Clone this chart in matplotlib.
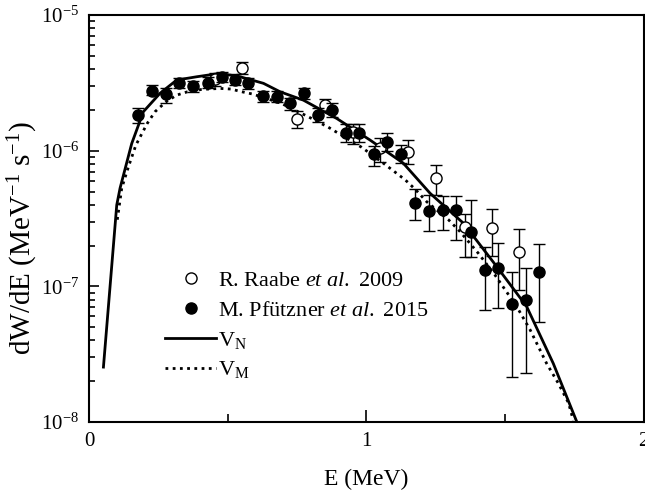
import matplotlib
matplotlib.use("Agg")
import matplotlib.pyplot as plt
import numpy as np

# Pfutzner et al. 2015 (filled): energy, value, upper and lower error-bar ends
pf_E = [0.178, 0.226, 0.277, 0.326, 0.376, 0.428, 0.479, 0.525, 0.574, 0.627,
        0.677, 0.725, 0.775, 0.826, 0.876, 0.927, 0.975, 1.026, 1.076, 1.125,
        1.176, 1.225, 1.276, 1.325, 1.376, 1.426, 1.476, 1.524, 1.576, 1.624]
pf_y = [1.83e-6, 2.75e-6, 2.61e-6, 3.14e-6, 3.0e-6, 3.17e-6, 3.51e-6, 3.33e-6, 3.14e-6, 2.52e-6,
        2.50e-6, 2.24e-6, 2.65e-6, 1.83e-6, 2.0e-6, 1.36e-6, 1.36e-6, 9.4e-7, 1.16e-6, 9.4e-7,
        4.14e-7, 3.6e-7, 3.66e-7, 3.66e-7, 2.5e-7, 1.32e-7, 1.37e-7, 7.4e-8, 8.0e-8, 1.28e-7]
pf_hi = [2.05e-6, 3.05e-6, 2.88e-6, 3.42e-6, 3.28e-6, 3.51e-6, 3.82e-6, 3.67e-6, 3.43e-6, 2.75e-6,
         2.75e-6, 2.45e-6, 2.90e-6, 2.06e-6, 2.25e-6, 1.57e-6, 1.57e-6, 1.08e-6, 1.36e-6, 1.10e-6,
         5.19e-7, 4.72e-7, 4.66e-7, 4.64e-7, 4.33e-7, 1.96e-7, 2.08e-7, 1.28e-7, 1.36e-7, 2.04e-7]
pf_lo = [1.61e-6, 2.57e-6, 2.26e-6, 2.91e-6, 2.72e-6, 2.88e-6, 3.22e-6, 3.05e-6, 2.85e-6, 2.29e-6,
         2.29e-6, 2.0e-6, 2.40e-6, 1.63e-6, 1.77e-6, 1.16e-6, 1.16e-6, 7.7e-7, 9.95e-7, 8.1e-7,
         3.08e-7, 2.56e-7, 2.60e-7, 2.2e-7, 1.64e-7, 6.7e-8, 6.9e-8, 2.15e-8, 2.3e-8, 5.5e-8]

# Raabe et al. 2009 (open)
rb_E = [0.454, 0.553, 0.750, 0.851, 0.951, 1.050, 1.151, 1.250, 1.356, 1.452, 1.551]
rb_y = [3.36e-6, 4.05e-6, 1.71e-6, 2.17e-6, 1.38e-6, 1.04e-6, 9.8e-7, 6.3e-7, 2.75e-7, 2.7e-7, 1.8e-7]
rb_hi = [3.72e-6, 4.48e-6, 1.96e-6, 2.39e-6, 1.57e-6, 1.24e-6, 1.19e-6, 7.9e-7, 3.4e-7, 3.72e-7, 2.63e-7]
rb_lo = [3.0e-6, 3.67e-6, 1.46e-6, 1.93e-6, 1.12e-6, 8.3e-7, 8.0e-7, 4.7e-7, 1.66e-7, 1.67e-7, 9.4e-8]

# model curves
vn_E = [0.052, 0.100, 0.112, 0.154, 0.196, 0.256, 0.316, 0.388, 0.472, 0.545, 0.629,
        0.689, 0.773, 0.893, 1.013, 1.133, 1.230, 1.350, 1.470, 1.578, 1.674, 1.759]
vn_y = [2.54e-8, 3.98e-7, 5.3e-7, 1.13e-6, 1.94e-6, 2.65e-6, 3.32e-6, 3.51e-6, 3.72e-6, 3.51e-6, 3.14e-6,
        2.72e-6, 2.36e-6, 1.73e-6, 1.20e-6, 8.1e-7, 4.85e-7, 2.92e-7, 1.40e-7, 7.1e-8, 2.7e-8, 1.0e-8]
vm_E = [0.102, 0.118, 0.142, 0.169, 0.190, 0.210, 0.238, 0.278, 0.316, 0.355, 0.406, 0.472,
        0.512, 0.551, 0.589, 0.690, 0.786, 0.863, 0.983, 1.061, 1.140, 1.176, 1.218, 1.296,
        1.338, 1.404, 1.464, 1.542, 1.590, 1.650, 1.692, 1.729, 1.746]
vm_y = [3.1e-7, 5.3e-7, 7.6e-7, 1.10e-6, 1.33e-6, 1.59e-6, 1.94e-6, 2.30e-6, 2.57e-6, 2.72e-6, 2.83e-6, 2.88e-6,
        2.85e-6, 2.72e-6, 2.62e-6, 2.25e-6, 1.80e-6, 1.49e-6, 1.06e-6, 8.1e-7, 6.1e-7, 5.2e-7, 4.2e-7, 3.1e-7,
        2.53e-7, 1.75e-7, 1.21e-7, 7.1e-8, 4.8e-8, 2.7e-8, 1.93e-8, 1.38e-8, 1.03e-8]

plt.rcParams['font.family'] = 'Liberation Serif'
plt.rcParams['mathtext.fontset'] = 'custom'
plt.rcParams['mathtext.rm'] = 'Liberation Serif'
plt.rcParams['mathtext.it'] = 'Liberation Serif:italic'

fig = plt.figure(figsize=(6.45, 4.92), dpi=100)
ax = fig.add_axes([0.138, 0.1423, 0.860, 0.827])

ax.plot(vn_E, vn_y, color='black', lw=2, label=r'V$_\mathrm{N}$', zorder=3)
ax.plot(vm_E, vm_y, color='black', lw=2, linestyle=(0, (1, 1.6)), label=r'V$_\mathrm{M}$', zorder=3)

rb_err = [np.array(rb_y) - np.array(rb_lo), np.array(rb_hi) - np.array(rb_y)]
pf_err = [np.array(pf_y) - np.array(pf_lo), np.array(pf_hi) - np.array(pf_y)]
h1 = ax.errorbar(rb_E, rb_y, yerr=rb_err, fmt='o', ms=8, mfc='white', mec='black', mew=1,
                 ecolor='black', elinewidth=1, capsize=4, capthick=1, zorder=4)
h2 = ax.errorbar(pf_E, pf_y, yerr=pf_err, fmt='o', ms=8, mfc='black', mec='black',
                 ecolor='black', elinewidth=1, capsize=4, capthick=1, zorder=5)

ax.set_yscale('log')
ax.set_xlim(0, 2)
ax.set_ylim(1e-8, 1e-5)
ax.set_xticks([0, 1, 2])
ax.set_xticks([0.5, 1.5], minor=True)
ax.tick_params(which='both', direction='in', top=False, right=False, width=1.2, labelsize=15)
ax.tick_params(which='major', length=7, pad=7)
ax.tick_params(which='minor', length=4)
ax.tick_params(axis='x', which='major', length=9)
ax.tick_params(axis='x', which='minor', length=6)
for s in ax.spines.values():
    s.set_linewidth(1.5)

ax.set_xlabel('E (MeV)', fontsize=17)
ax.set_ylabel(r'dW/dE (MeV$^{-1}$ s$^{-1}$)', fontsize=21)
ax.xaxis.set_label_coords(0.5, -0.115)
ax.yaxis.set_label_coords(-0.088, 0.452)

ax.legend([h1[0], h2[0]] + ax.get_lines()[:2],
          [r'R. Raabe $\mathit{et\ al.}$ 2009', r'M. Pfützner $\mathit{et\ al.}$ 2015',
           r'V$_\mathrm{N}$', r'V$_\mathrm{M}$'],
          loc='upper left', bbox_to_anchor=(0.137, 0.372), frameon=False, fontsize=16,
          handlelength=2.3, handletextpad=0.1, labelspacing=0.4, borderpad=0, borderaxespad=0)

fig.savefig('out.png', dpi=100)
